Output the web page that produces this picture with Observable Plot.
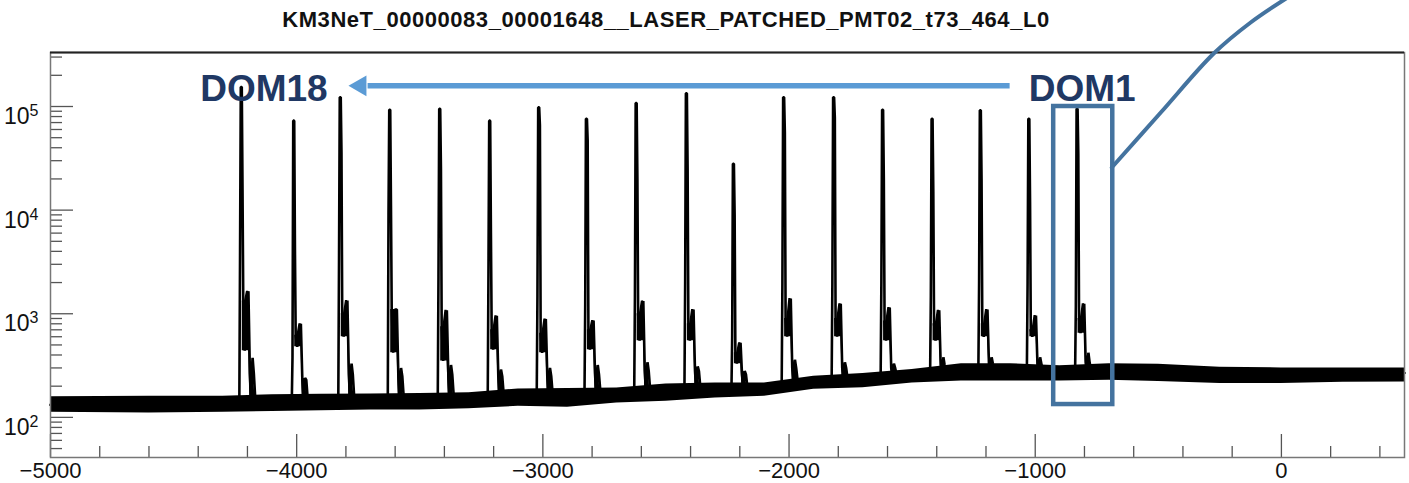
<!DOCTYPE html>
<html><head><meta charset="utf-8">
<script src="https://cdn.jsdelivr.net/npm/d3@7"></script>
<script src="https://cdn.jsdelivr.net/npm/@observablehq/plot@0.6"></script>
<style>
body{margin:0;background:#fff;}
#wrap{position:relative;width:1409px;height:483px;overflow:hidden;font-family:"Liberation Sans",Arial,Helvetica,sans-serif;}
#chart{position:absolute;top:0;left:0;}
#title{position:absolute;top:7px;left:0;width:1332px;text-align:center;font-weight:bold;font-size:22px;line-height:25px;letter-spacing:0.55px;color:#111;}
</style></head>
<body><div id="wrap"><div id="chart"></div><div id="title">KM3NeT_00000083_00001648__LASER_PATCHED_PMT02_t73_464_L0</div></div>
<script>
// ---- peaks (one per DOM, DOM18 ... DOM1) ----
const peakX     = [-4224,-4011,-3822,-3621,-3418,-3215,-3016,-2822,-2620,-2416,-2225,-2021,-1818,-1619,-1418,-1222,-1025,-829];
const peakH     = [154000,73000,123000,93000,95000,73000,98000,76000,108000,134000,28000,123000,123000,93000,76000,92000,76000,95000];
const sideH     = [16000,4000,36000,11000,25000,6000,66000,47000,20000,25000,9000,56000,78000,20000,15000,20000,12000,35000];
const preH      = [4000,380,3400,9000,2300,2500,1500,1200,1500,2000,600,2000,2000,2000,1500,2000,2000,1200];
const shoulder1 = [1330,620,1000,1100,750,700,650,700,1000,800,420,900,900,850,800,800,700,900];
const dipH      = [440,480,600,420,350,450,420,450,550,550,330,600,600,550,550,600,600,650];
const shoulder2 = [1650,800,1340,1100,1080,955,890,860,1330,1100,525,1400,1250,1150,1080,1100,960,1250];
const dropH     = [265,230,260,250,260,250,250,260,280,280,260,300,300,300,320,330,330,340];
const tailH     = [375,240,330,300,320,290,300,320,340,310,280,360,340,330,380,380,380,420];
// baseline level in each gap (before peak 0 ... after peak 17)
const gapBase   = [132,135,138,140,142,148,155,155,162,170,180,185,215,225,250,272,272,268,268];
// noise band envelope
const bandX  = [-5000,-4600,-4300,-4100,-3900,-3700,-3500,-3300,-3100,-2900,-2700,-2500,-2300,-2100,-1900,-1700,-1500,-1300,-1100,-900,-700,-500,-250,0,250,500];
const bandLo = [112,110,112,114,116,118,118,121,128,125,138,143,154,160,187,193,215,225,225,225,228,222,212,212,218,220];
const bandHi = [158,160,160,165,167,168,170,173,188,190,192,210,215,215,250,265,290,330,330,315,330,325,305,300,300,300];
// peak profile: offset from the peak (x units) and which level it takes
const shape = [[-20,"base"],[-9,"base"],[-6,"pre"],[-3,"peak"],[1,"peak"],[4,"side"],[7,"sh1"],[13,"dip"],[20,"sh1"],[28,"sh2"],[34,"drop"],[39,"base2"],[45,"tail"],[50,"drop"],[57,"base2"]];
// shoulder / tail noise envelope: offset, upper level, lower level
const envShape = [[3,"sh1","dip"],[12,"sh1","dip"],[20,"sh2","dip"],[29,"sh2","dip"],[34,"drop","base2"],[44,"tail","base2"],[56,"base2","base2"]];
// axes
const xMajor = [-5000,-4000,-3000,-2000,-1000,0];
const yMajor = [100,1000,10000,100000];
const xDomain = [-5000,500];
const yDomain = [41,332000];
// annotations
const domLabels = [{x:-4133, y:148600, text:"DOM18"}, {x:-809, y:148600, text:"DOM1"}];
const arrowLine = [{x1:-1104, x2:-3712, y:158500}];
const arrowHead = [{x:-3741, y:158500}];
const boxDOM1 = [{x1:-925, x2:-685, y1:133, y2:100000}];
const curveX = [-689,-490,-275,-125,38];
const curveY = [25780,87500,324700,646700,1178000];

// ---- build tables ----
const hist = [{x:xDomain[0], y:gapBase[0]}];
const env = [];
peakX.forEach((p,i)=>{
  const lv = {base:gapBase[i], pre:preH[i], peak:peakH[i], side:sideH[i], sh1:shoulder1[i], dip:dipH[i], sh2:shoulder2[i], drop:dropH[i], tail:tailH[i], base2:gapBase[i+1]};
  shape.forEach(([dx,k])=>hist.push({x:p+dx, y:lv[k]}));
  envShape.forEach(([dx,hk,lk])=>env.push({peak:i, x:p+dx, hi:lv[hk], lo:lv[lk]}));
});
hist.push({x:xDomain[1], y:gapBase[gapBase.length-1]});
const band = bandX.map((x,i)=>({x, lo:bandLo[i], hi:bandHi[i]}));
const curve = curveX.map((x,i)=>({x, y:curveY[i]}));
const xMinor = d3.range(-4800, 500, 200).filter(v=>!xMajor.includes(v));
const yMinor = [];
for (let e=1;e<=5;e++) for (let m=2;m<=9;m++){const v=m*10**e; if(v>=yDomain[0]&&v<=yDomain[1]) yMinor.push(v);}

const W=1409,H=483,mT=52,mB=26,mL=50,mR=5;
const innerH=H-mT-mB, innerW=W-mL-mR;
const font='"Liberation Sans",Arial,Helvetica,sans-serif';

const chart = Plot.plot({
  width:W, height:H, marginTop:mT, marginBottom:mB, marginLeft:mL, marginRight:mR,
  style:{fontFamily:font, fontSize:"22px", color:"#111", background:"#fff", overflow:"visible"},
  x:{domain:xDomain, ticks:xMajor, tickSize:0, tickPadding:5, label:null,
     tickFormat:d=> d<0 ? "\u2212"+Math.abs(d) : String(d)},
  y:{type:"log", domain:yDomain, ticks:yMajor, tickSize:0, tickPadding:12, label:null,
     tickFormat:d=>"10^"+Math.round(Math.log10(d))},
  marks:[
    Plot.areaY(band,{x:"x", y1:"lo", y2:"hi", fill:"#000"}),
    Plot.areaY(env,{x:"x", y1:"lo", y2:"hi", z:"peak", fill:"#000"}),
    Plot.line(hist,{x:"x", y:"y", stroke:"#000", strokeWidth:2.6, strokeLinejoin:"miter"}),
    Plot.tickX(xMajor,{x:d=>d, insetTop:innerH-23, stroke:"#555", strokeWidth:1.3}),
    Plot.tickX(xMinor,{x:d=>d, insetTop:innerH-11, stroke:"#555", strokeWidth:1.3}),
    Plot.tickY(yMajor,{y:d=>d, insetRight:innerW-23, stroke:"#555", strokeWidth:1.3}),
    Plot.tickY(yMinor,{y:d=>d, insetRight:innerW-12, stroke:"#555", strokeWidth:1.3}),
    Plot.frame({stroke:"#777", strokeWidth:1.5}),
    Plot.ruleY([yDomain[1]],{stroke:"#222", strokeWidth:2}),
    Plot.rect(boxDOM1,{x1:"x1", x2:"x2", y1:"y1", y2:"y2", fill:"none", stroke:"#44739f", strokeWidth:4.5}),
    Plot.line(curve,{x:"x", y:"y", curve:"catmull-rom", stroke:"#44739f", strokeWidth:4}),
    Plot.link(arrowLine,{x1:"x1", x2:"x2", y1:"y", y2:"y", stroke:"#5b9bd5", strokeWidth:5.5}),
    Plot.dot(arrowHead,{x:"x", y:"y", symbol:"triangle", r:7.7, rotate:-90, fill:"#5b9bd5", stroke:"none"}),
    Plot.text(domLabels,{x:"x", y:"y", text:"text", fontSize:37, fontWeight:"bold", fill:"#203864", fontFamily:font})
  ]
});
document.getElementById("chart").appendChild(chart);
// superscript exponents on y tick labels
d3.select(chart).selectAll('g[aria-label="y-axis tick label"] text').each(function(){
  const t=d3.select(this); const s=t.text(); const parts=s.split("^");
  t.text(parts[0]).attr("font-size","23px");
  t.append("tspan").attr("dy","-0.5em").attr("font-size","16px").text(parts[1]);
  t.attr("dy","0.45em");
});
</script>
</body></html>
